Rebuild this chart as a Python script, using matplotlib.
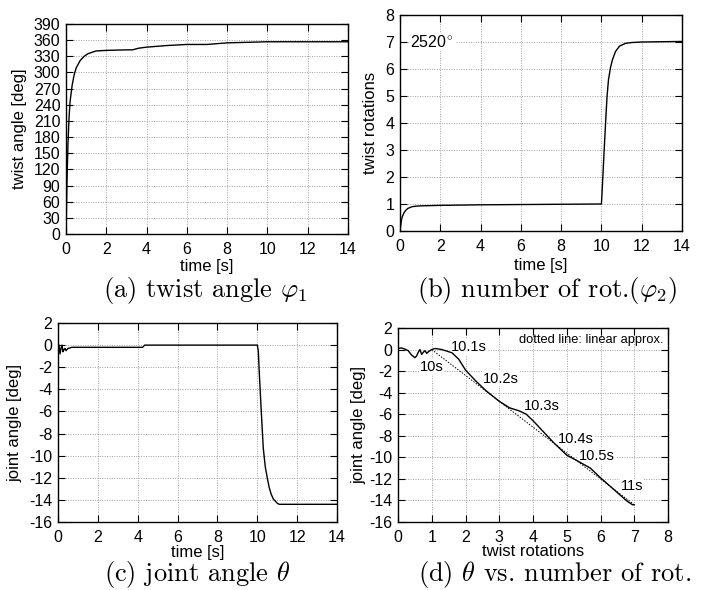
import numpy as np
import matplotlib
matplotlib.use('Agg')
import matplotlib.pyplot as plt

plt.rcParams['font.family'] = ['Liberation Sans', 'DejaVu Sans']
plt.rcParams['mathtext.fontset'] = 'cm'
plt.rcParams['axes.unicode_minus'] = False

# (a) twist angle phi1 vs time
t_a = [0, 0.02, 0.05, 0.1, 0.15, 0.2, 0.3, 0.4, 0.5, 0.7, 0.9, 1.1, 1.5, 2.0, 3.0, 3.3, 3.6, 4.0, 5.0, 6.0, 7.0, 8.0, 9.0, 10.0, 12.0, 14.0]
phi1 = [0, 40, 100, 170, 215, 245, 275, 295, 308, 322, 330, 335, 340, 341, 342, 342, 345, 347, 350, 352, 352, 355, 356, 357, 357, 357]

# (b) twist rotations vs time
t_b = [0, 0.05, 0.1, 0.2, 0.3, 0.4, 0.6, 0.8, 1.0, 2.0, 4.0, 6.0, 8.0, 10.0, 10.03, 10.07, 10.15, 10.22, 10.28, 10.35, 10.45, 10.55, 10.7, 10.9, 11.2, 11.5, 12.0, 14.0]
rot_b = [0, 0.3, 0.5, 0.68, 0.78, 0.84, 0.9, 0.92, 0.93, 0.95, 0.97, 0.98, 0.99, 1.0, 1.4, 2.0, 3.2, 4.2, 5.0, 5.6, 6.05, 6.35, 6.65, 6.85, 6.95, 6.98, 7.0, 7.02]

# (c) joint angle theta vs time
t_c = [0, 0.05, 0.1, 0.15, 0.2, 0.25, 0.3, 0.35, 0.4, 0.5, 0.6, 0.7, 4.25, 4.35, 10.0, 10.05, 10.1, 10.2, 10.3, 10.4, 10.5, 10.6, 10.7, 10.8, 10.9, 11.0, 11.1, 14.0]
theta_c = [0.1, 0.0, -0.8, -0.3, 0.0, -0.6, -0.4, -0.3, -0.5, -0.3, -0.25, -0.2, -0.2, 0.0, 0.0, -0.5, -2.5, -6.0, -9.3, -11.0, -12.0, -12.9, -13.5, -13.9, -14.1, -14.3, -14.4, -14.4]

# (d) theta vs twist rotations
rot_d = [0, 0.1, 0.2, 0.3, 0.4, 0.5, 0.55, 0.6, 0.65, 0.7, 0.75, 0.8, 0.85, 0.9, 1.0, 1.1, 1.3, 1.6, 1.8, 2.0, 2.3, 2.6, 3.0, 3.3, 3.6, 3.8, 4.0, 4.3, 4.6, 5.0, 5.3, 5.7, 6.0, 6.4, 6.8, 6.95, 7.0]
theta_d = [0.1, 0.15, 0.05, -0.1, -0.5, -0.75, -0.6, -0.25, 0.0, -0.45, -0.25, -0.1, -0.35, -0.2, 0.0, 0.1, 0.0, -0.3, -0.9, -1.9, -2.9, -3.8, -4.8, -5.4, -5.7, -6.0, -6.6, -7.6, -8.6, -9.8, -10.3, -11.0, -11.9, -13.0, -14.1, -14.4, -14.4]
lin_x = [1.0, 7.0]
lin_y = [0.0, -14.4]

time_labels = ['10s', '10.1s', '10.2s', '10.3s', '10.4s', '10.5s', '11s']
label_x = [1.0, 2.09, 3.06, 4.25, 5.28, 5.9, 6.94]
label_y = [-1.6, 0.25, -2.7, -5.2, -8.3, -9.9, -12.7]

W, H = 704, 590
fig = plt.figure(figsize=(W / 100, H / 100), dpi=100)


def make_ax(l, t, r, b, ylab_x, xlab_y):
    ax = fig.add_axes([l / W, 1 - b / H, (r - l) / W, (b - t) / H])
    ax.grid(True, color='#a0a0a0', linestyle=(0, (1, 1.5)), linewidth=0.7)
    ax.tick_params(direction='in', top=True, right=True, length=5, width=0.8, labelsize=11.5)
    ax.tick_params(axis='x', pad=6)
    ax.tick_params(axis='y', pad=4)
    for s in ax.spines.values():
        s.set_linewidth(1.0)
    ax.yaxis.set_label_coords((ylab_x - l) / (r - l), 0.5)
    ax.xaxis.set_label_coords(0.5, (b - xlab_y) / (b - t))
    return ax


def finish_labels(ax, xl, yl):
    ax.set_xlabel(xl, fontsize=12, va='center')
    ax.set_ylabel(yl, fontsize=12, va='center')


# (a)
ax = make_ax(66, 24, 348, 234, 20, 266)
ax.plot(t_a, phi1, color='black', linewidth=1.0)
ax.set_xlim(0, 14)
ax.set_ylim(0, 390)
ax.set_xticks(range(0, 15, 2))
ax.set_yticks(range(0, 391, 30))
finish_labels(ax, 'time [s]', 'twist angle [deg]')

# (b)
ax = make_ax(400, 15, 682, 231, 370, 266)
ax.plot(t_b, rot_b, color='black', linewidth=1.0)
ax.set_xlim(0, 14)
ax.set_ylim(0, 8)
ax.set_xticks(range(0, 15, 2))
ax.set_yticks(range(0, 9))
finish_labels(ax, 'time [s]', 'twist rotations')
ax.text(0.5, 7.0, r'2520$^{\circ}$', fontsize=11.5, va='center', ha='left',
        bbox=dict(facecolor='white', edgecolor='none', pad=1))

# (c)
ax = make_ax(58, 323, 337, 522, 15, 553)
ax.plot(t_c, theta_c, color='black', linewidth=1.0)
ax.set_xlim(0, 14)
ax.set_ylim(-16, 2)
ax.set_xticks(range(0, 15, 2))
ax.set_yticks(range(-16, 3, 2))
finish_labels(ax, 'time [s]', 'joint angle [deg]')

# (d)
ax = make_ax(398, 328, 668, 522, 359, 552)
ax.plot(rot_d, theta_d, color='black', linewidth=1.0, zorder=2)
ax.plot(lin_x, lin_y, color='black', linestyle=(0, (1.5, 1.5)), linewidth=0.7, zorder=2)
ax.set_xlim(0, 8)
ax.set_ylim(-16, 2)
ax.set_xticks(range(0, 9))
ax.set_yticks(range(-16, 3, 2))
finish_labels(ax, 'twist rotations', 'joint angle [deg]')
for s, x, y in zip(time_labels, label_x, label_y):
    ax.text(x, y, s, fontsize=10.5, ha='center', va='center', zorder=1.8,
            bbox=dict(facecolor='white', edgecolor='none', pad=0.5))
ax.text(7.88, 0.86, 'dotted line: linear approx.', fontsize=9.3, ha='right', va='center')

# captions
cap = dict(fontsize=19, family='cmr10', ha='center', va='center')
fig.text(205 / W, 1 - 291 / H, r'(a) twist angle $\varphi_1$', **cap)
fig.text(547 / W, 1 - 291 / H, r'(b) number of rot.($\varphi_2$)', **cap)
fig.text(197 / W, 1 - 575 / H, r'(c) joint angle $\theta$', **cap)
fig.text(555 / W, 1 - 575 / H, r'(d) $\theta$ vs. number of rot.', **cap)

fig.savefig('out.png', dpi=100)
